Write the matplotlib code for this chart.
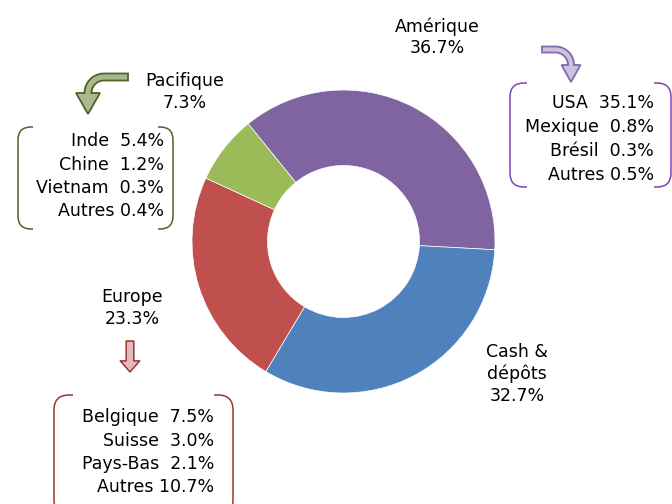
import numpy as np
import matplotlib.pyplot as plt
from matplotlib.patches import FancyArrowPatch, PathPatch, Polygon
from matplotlib.path import Path

plt.rcParams['font.family'] = ['DejaVu Sans']

# regions du portefeuille (sens horaire à partir du haut)
regions = ['Amérique', 'Cash &\ndépôts', 'Europe', 'Pacifique']
parts = [36.7, 32.7, 23.3, 7.3]
couleurs = ['#8064A2', '#4F81BD', '#C0504D', '#9BBB59']

# détail par pays
amerique_pays = ['USA  ', 'Mexique  ', 'Brésil  ', 'Autres ']
amerique_vals = ['35.1%', '0.8%', '0.3%', '0.5%']
pacifique_pays = ['Inde  ', 'Chine  ', 'Vietnam  ', 'Autres ']
pacifique_vals = ['5.4%', '1.2%', '0.3%', '0.4%']
europe_pays = ['Belgique  ', 'Suisse  ', 'Pays-Bas  ', 'Autres ']
europe_vals = ['7.5%', '3.0%', '2.1%', '10.7%']

W, H = 672, 504


def Y(p):
    # coordonnée pixel (haut = 0) -> coordonnée du graphique
    return H - p


fig = plt.figure(figsize=(6.72, 5.04), dpi=100)
ax = fig.add_axes([0, 0, 1, 1])

ax.pie(parts, colors=couleurs, startangle=129, counterclock=False,
       radius=151.5, center=(343.5, Y(241.5)),
       wedgeprops=dict(width=75.5, edgecolor='white', linewidth=0.5))
ax.set_xlim(0, W)
ax.set_ylim(0, H)
ax.axis('off')

fs = 12.5
# étiquettes des segments
label_pos = [(437, 37), (517, 374), (132, 308), (185, 92)]
for nom, val, (x, y) in zip(regions, parts, label_pos):
    ax.text(x, Y(y), f'{nom}\n{val}%', ha='center', va='center',
            fontsize=fs, linespacing=1.25, color='black')


def liste(pays, vals, x_right, y0, dy):
    for i, (p, v) in enumerate(zip(pays, vals)):
        ax.text(x_right, Y(y0 + i * dy), f'{p}{v}', ha='right', va='center',
                fontsize=fs, color='black')


liste(amerique_pays, amerique_vals, 654, 103, 24)
liste(pacifique_pays, pacifique_vals, 164, 141, 23.5)
liste(europe_pays, europe_vals, 214, 417, 23.5)


def crochets(x0, x1, yt, yb, r, arm, color):
    for xs, sgn in ((x0, 1), (x1, -1)):
        verts = [(xs + sgn * arm, Y(yt)), (xs + sgn * r, Y(yt)),
                 (xs, Y(yt)), (xs, Y(yt + r)),
                 (xs, Y(yb - r)), (xs, Y(yb)), (xs + sgn * r, Y(yb)),
                 (xs + sgn * arm, Y(yb))]
        codes = [Path.MOVETO, Path.LINETO, Path.CURVE3, Path.CURVE3,
                 Path.LINETO, Path.CURVE3, Path.CURVE3, Path.LINETO]
        ax.add_patch(PathPatch(Path(verts, codes), fc='none', ec=color,
                               lw=1.1))


crochets(510, 671, 83, 187, 14, 17, '#7E44B0')
crochets(18, 173, 127, 229, 13, 15, '#4F6228')
crochets(54, 233, 395, 515, 15, 19, '#953735')


def fleche_coudee(x0, yl, xv, yb, ytip, tw, hw, fc, ec):
    # flèche horizontale qui tourne vers le bas (quart de cercle)
    d = np.sign(xv - x0)
    r = yb - yl
    cx, cy = xv - d * r, yl + r
    t = np.linspace(0, np.pi / 2, 30)
    ext = [(cx + d * (r + tw / 2) * np.sin(a), cy - (r + tw / 2) * np.cos(a))
           for a in t]
    intr = [(cx + d * (r - tw / 2) * np.sin(a), cy - (r - tw / 2) * np.cos(a))
            for a in t[::-1]]
    pts = [(x0, yl - tw / 2)] + ext + [
        (xv + d * hw / 2, yb), (xv, ytip), (xv - d * hw / 2, yb)] + intr + [
        (x0, yl + tw / 2)]
    ax.add_patch(Polygon([(x, Y(y)) for x, y in pts], closed=True,
                         fc=fc, ec=ec, lw=1.3, joinstyle='miter'))


fleche_coudee(542, 49.5, 571, 65, 82, 6, 19, '#CDC2DE', '#8469AE')
fleche_coudee(128, 77, 88, 93, 114, 7, 24, '#A9B98C', '#4F6228')

ax.add_patch(FancyArrowPatch(
    (130, Y(341)), (130, Y(372)),
    arrowstyle='simple,head_length=8,head_width=14,tail_width=5.5',
    mutation_scale=1, shrinkA=0, shrinkB=0,
    fc='#E6B9B8', ec='#953735', lw=1.1))

fig.savefig('out.png', dpi=100)
